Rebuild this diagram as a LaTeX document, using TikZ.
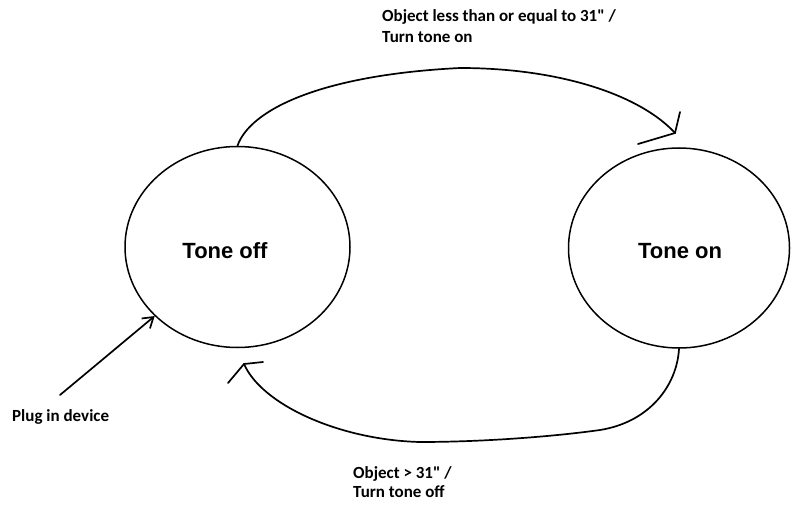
\documentclass[tikz,border=0pt]{standalone}
\usepackage{fontspec}
\setmainfont{Carlito}[Ligatures=TeXOff]
\newfontfamily\tonefont{Liberation Sans}
\usetikzlibrary{shapes.geometric,arrows.meta}
\begin{document}
\begin{tikzpicture}[x=1pt,y=1pt,
 statenode/.style={ellipse, draw, line width=1.5pt, inner sep=0pt},
 statetext/.style={font=\tonefont\bfseries\fontsize{22}{26}\selectfont, inner sep=0pt, anchor=base},
 labeltext/.style={font=\bfseries\fontsize{17}{21}\selectfont, inner sep=0pt, anchor=base west, align=left},
 edge/.style={line width=1.7pt, line cap=round, line join=round},
]
\useasboundingbox (0,0) rectangle (791,504);
\fill[white] (0,0) rectangle (791,504);
\node[statenode, minimum width=225pt, minimum height=201pt] (toneoff) at (237.5,257) {};
\node[statenode, minimum width=221pt, minimum height=200pt] (toneon) at (679,256) {};
\node[statetext] (offtext) at (225,246) {Tone off};
\node[statetext] (ontext) at (680,246) {Tone on};
\coordinate (tipA) at (675,371);
\coordinate (tipB) at (244,140);
\coordinate (plugstart) at (60,109);
\draw[edge] (toneoff.north) .. controls (250,394) and (320,429) .. (460,436) .. controls (560,436) and (640,409) .. (tipA);
\draw[edge] ([shift={(5,21)}]tipA) -- (tipA) -- ++(-37,-11);
\draw[edge] (toneon.south) .. controls (677,119) and (650,82) .. (600,74) .. controls (550,67) and (480,62) .. (420,62) .. controls (340,64) and (262,99) .. (tipB);
\draw[edge] ([shift={(19,2)}]tipB) -- (tipB) -- ++(-16,-19);
\draw[edge, -{Straight Barb[length=10pt,width=13pt]}] (plugstart) -- (toneoff);
\node[labeltext] (toplabel) at (382,461) {Object less than or equal to 31" /\\Turn tone on};
\node[labeltext, font=\bfseries\fontsize{17}{19}\selectfont] (botlabel) at (353,7) {Object > 31" /\\Turn tone off};
\node[labeltext] (pluglabel) at (12,83) {Plug in device};
\end{tikzpicture}
\end{document}
